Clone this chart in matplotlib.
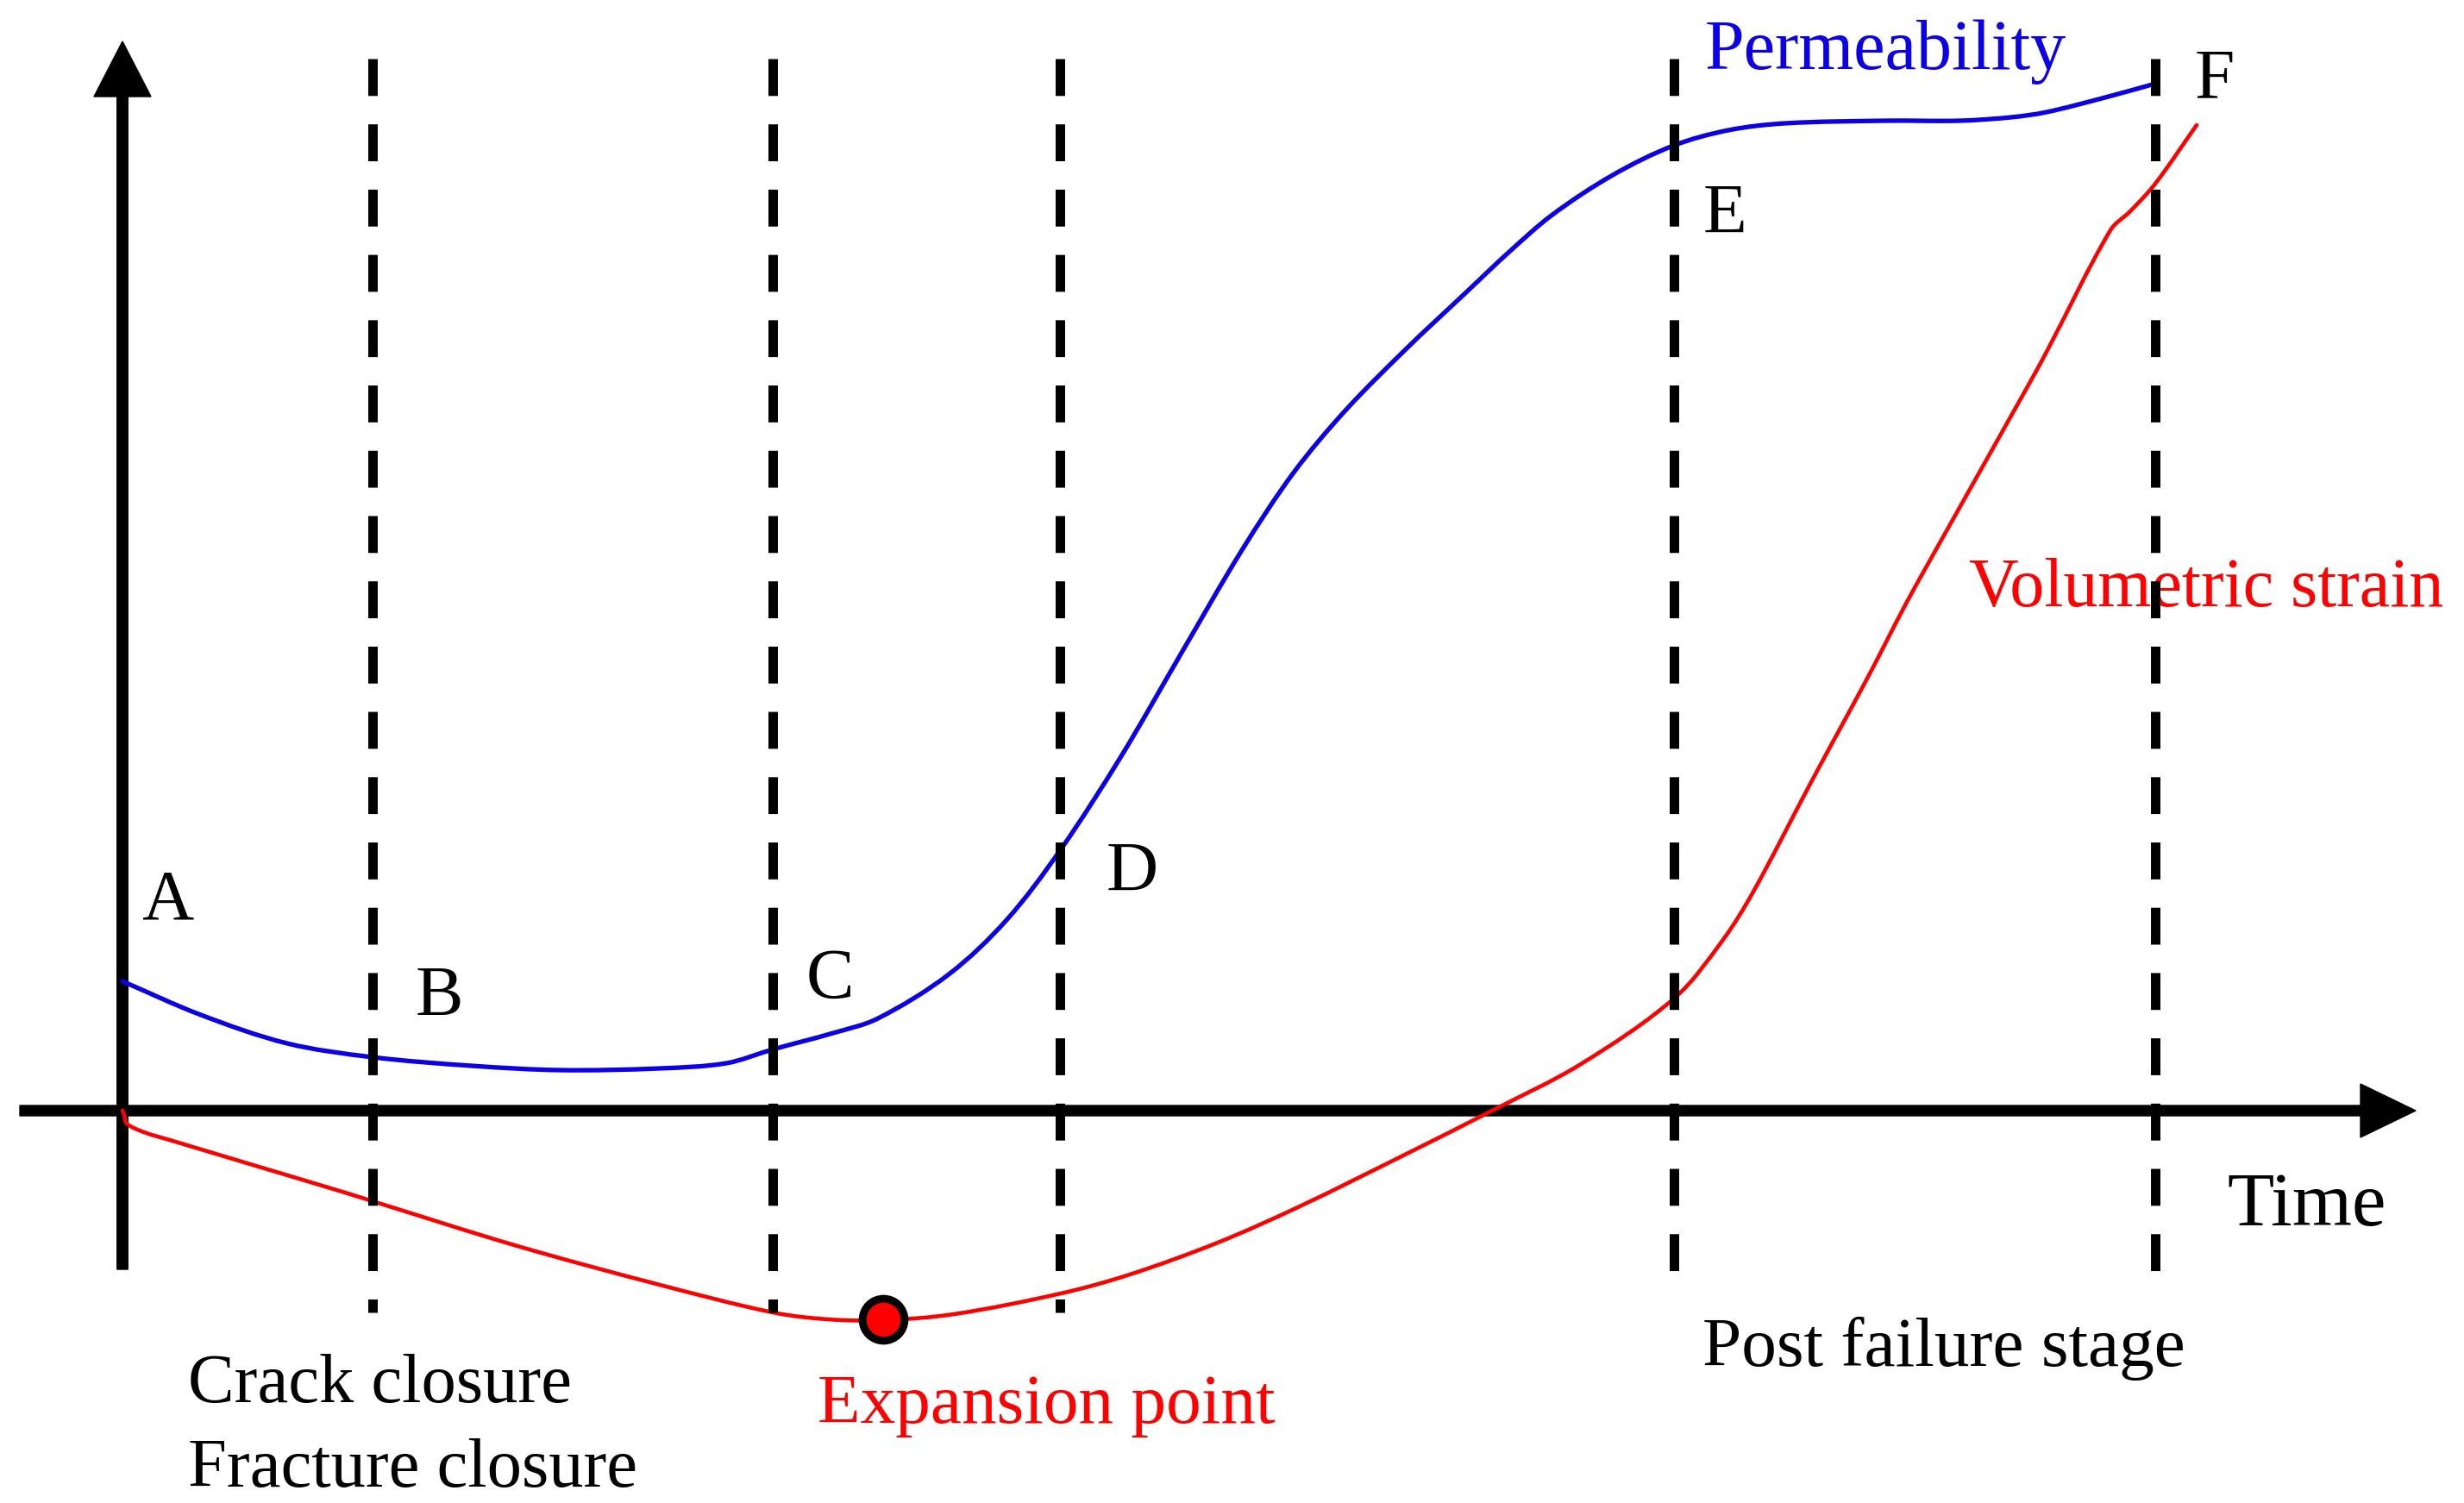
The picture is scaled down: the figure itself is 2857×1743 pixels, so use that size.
import numpy as np
import matplotlib
matplotlib.use("Agg")
import matplotlib.pyplot as plt
from matplotlib.path import Path
from matplotlib.patches import PathPatch

plt.rcParams['font.family'] = ['Liberation Serif', 'DejaVu Serif']

# permeability curve (time, value)
perm_t = [0.00, 0.91, 1.91, 2.90, 4.05, 5.08, 6.23, 7.00, 7.54, 8.24, 8.76, 9.58,
          10.25, 10.88, 11.58, 12.28, 12.98, 13.58, 14.18, 14.88, 15.58, 16.08,
          16.58, 17.28, 17.98, 18.62, 19.28, 20.44, 21.30, 21.90, 22.31, 22.99, 23.57]
perm_v = [1.50, 1.11, 0.78, 0.62, 0.52, 0.47, 0.49, 0.55, 0.71, 0.90, 1.07, 1.58,
          2.21, 3.03, 4.11, 5.31, 6.50, 7.40, 8.12, 8.83, 9.49, 9.96,
          10.39, 10.85, 11.19, 11.37, 11.45, 11.48, 11.48, 11.52, 11.58, 11.75, 11.91]

# volumetric strain curve
vol_t = [0.00, 0.02, 0.05, 0.25, 0.58, 1.58, 2.58, 2.90, 4.58, 6.23, 7.54, 8.18,
         8.82, 9.64, 10.88, 11.68, 12.70, 13.65, 14.91, 15.88, 16.91, 18.00, 18.55,
         18.91, 19.58, 20.25, 20.68, 21.08, 22.08, 22.31, 23.05, 23.28, 23.57, 24.05]
vol_v = [0.00, -0.05, -0.15, -0.25, -0.35, -0.65, -0.95, -1.05, -1.57, -2.02, -2.34, -2.42,
         -2.43, -2.36, -2.12, -1.90, -1.53, -1.11, -0.49, 0.00, 0.54, 1.31, 1.97,
         2.54, 3.81, 5.05, 5.88, 6.60, 8.38, 8.80, 10.21, 10.43, 10.75, 11.43]

expansion_pt = (8.82, -2.42)

# stage boundaries B..F and how far down each dashed line goes
stage_x = [2.90, 7.54, 10.87, 17.99, 23.57]
stage_bottom = [-2.34, -2.34, -2.34, -2.14, -2.14]
stage_top = 12.20

# point labels
pt_names = ['A', 'B', 'C', 'D', 'E', 'F']
pt_x = [0.22, 3.40, 7.93, 11.41, 18.33, 24.03]
pt_y = [2.22, 1.11, 1.31, 2.55, 10.18, 11.75]

blue = '#0c00e4'
red = '#ff0000'


def smooth_path(xs, ys):
    # cubic bezier through the read points, handles scaled to segment length
    p = np.column_stack([xs, ys]).astype(float)
    n = len(p)
    tang = np.zeros_like(p)
    for i in range(n):
        d = p[min(i + 1, n - 1)] - p[max(i - 1, 0)]
        tang[i] = d / np.hypot(*d)
    verts = [p[0]]
    codes = [Path.MOVETO]
    for i in range(n - 1):
        L = np.hypot(*(p[i + 1] - p[i])) / 3
        verts += [p[i] + tang[i] * L, p[i + 1] - tang[i + 1] * L, p[i + 1]]
        codes += [Path.CURVE4] * 3
    return Path(verts, codes)


fig = plt.figure(figsize=(28.57, 17.43), dpi=100)
ax = fig.add_axes([0, 0, 1, 1])
ax.set_xlim(-1.42, 27.15)
ax.set_ylim(-4.55, 12.88)
ax.axis('off')

# axes with arrow heads
ax.arrow(-1.19, 0, 27.78, 0, width=0.12, head_width=0.62, head_length=0.64,
         length_includes_head=True, color='k', zorder=3)
ax.arrow(0, -1.84, 0, 14.24, width=0.125, head_width=0.66, head_length=0.64,
         length_includes_head=True, color='k', zorder=3)

for x, yb in zip(stage_x, stage_bottom):
    ax.plot([x, x], [stage_top, yb], color='k', lw=7.9,
            linestyle=(0, (3.9, 3.0)), zorder=5)

ax.add_patch(PathPatch(smooth_path(perm_t, perm_v), fill=False, edgecolor=blue,
                       lw=3.8, capstyle='round', zorder=4))
ax.add_patch(PathPatch(smooth_path(vol_t, vol_v), fill=False, edgecolor=red,
                       lw=3.3, capstyle='round', zorder=4))
ax.plot(*expansion_pt, 'o', ms=35, mfc=red, mec='k', mew=6.5, zorder=6)

for name, x, y in zip(pt_names, pt_x, pt_y):
    ax.text(x, y, name, fontsize=60, ha='left', va='baseline', zorder=3)

ax.text(18.35, 12.08, 'Permeability', color=blue, fontsize=59, va='baseline')
ax.text(21.41, 5.85, 'Volumetric strain', color=red, fontsize=57.5, va='baseline')
ax.text(24.40, -1.33, 'Time', color='k', fontsize=64, va='baseline')
ax.text(18.32, -2.96, 'Post failure stage', color='k', fontsize=58.5, va='baseline')
ax.text(0.76, -3.38, 'Crack closure', color='k', fontsize=58, va='baseline')
ax.text(0.76, -4.36, 'Fracture closure', color='k', fontsize=58, va='baseline')
ax.text(8.06, -3.62, 'Expansion point', color=red, fontsize=58.5, va='baseline')

fig.savefig('out.png', dpi=100, facecolor='white')
